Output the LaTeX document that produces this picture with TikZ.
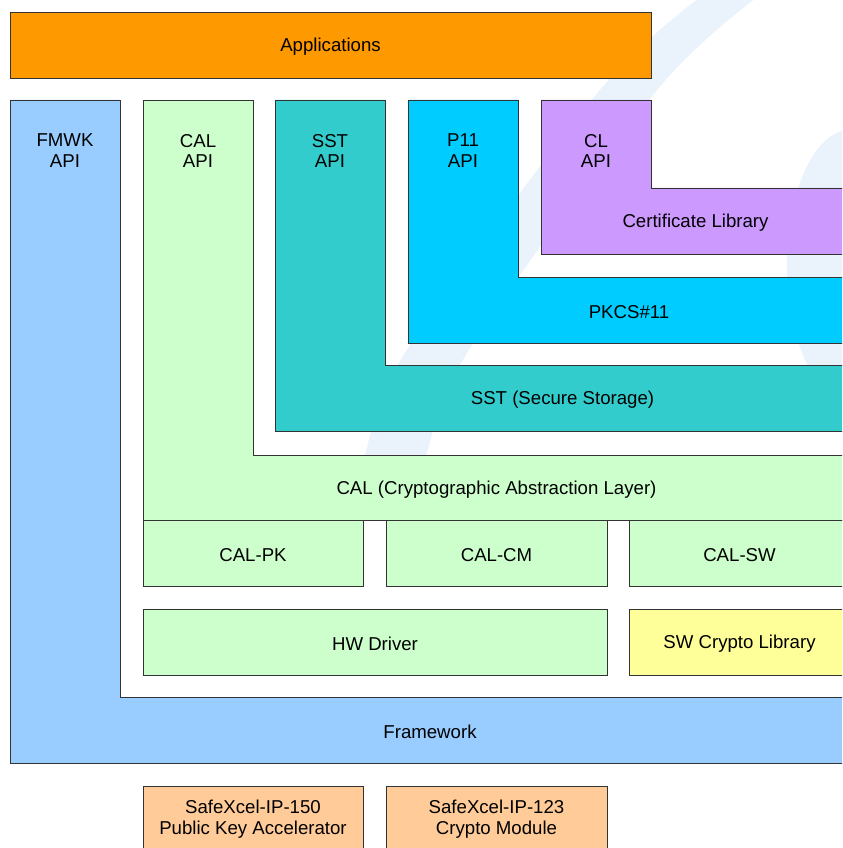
\documentclass[tikz,border=0pt]{standalone}
\usepackage{fontspec}
\setmainfont{Liberation Sans}
\definecolor{appsorange}{HTML}{FF9900}
\definecolor{fmwkblue}{HTML}{99CCFF}
\definecolor{calgreen}{HTML}{CCFFCC}
\definecolor{sstteal}{HTML}{33CCCC}
\definecolor{pkcscyan}{HTML}{00CCFF}
\definecolor{certviolet}{HTML}{CC99FF}
\definecolor{swyellow}{HTML}{FFFF99}
\definecolor{hwpeach}{HTML}{FFCC99}
\definecolor{markblue}{HTML}{EAF2FC}
\begin{document}
\begin{tikzpicture}[x=0.03cm,y=-0.03cm,
  layer/.style={draw=black!80,line width=0.7pt},
  lbl/.style={font=\fontsize{15.9}{17.9}\selectfont,align=center,inner sep=0pt}]
  \useasboundingbox (0,0) rectangle (842,848);
  \clip (0,0) rectangle (842,848);
  \fill[white] (0,0) rectangle (842,848);
  \fill[markblue] plot[smooth] coordinates {(703,-5) (600,90) (405,353) (361,470) (350,510)}
    -- plot[smooth] coordinates {(410,510) (422,470) (467,353) (657,90) (760,-5)} -- cycle;
  \fill[markblue] (850,265) ellipse [x radius=63,y radius=135];
  \draw[layer,fill=appsorange] (10,12) rectangle +(641,66);
  \node[lbl] (apps) at (330.5,47) {Applications};
  \draw[layer,fill=fmwkblue] (10,100) -- (120,100) -- (120,697) -- (850,697)
    -- (850,763) -- (10,763) -- cycle;
  \node[lbl] (fmwkapi) at (65,151) {FMWK\\API};
  \node[lbl] (fmwk) at (430,732) {Framework};
  \draw[layer,fill=calgreen] (143,100) -- (253,100) -- (253,455) -- (850,455)
    -- (850,520) -- (143,520) -- cycle;
  \node[lbl] (calapi) at (198,151) {CAL\\API};
  \node[lbl] (cal) at (496.5,490) {CAL (Cryptographic Abstraction Layer)};
  \draw[layer,fill=sstteal] (275,100) -- (385,100) -- (385,365) -- (850,365)
    -- (850,431) -- (275,431) -- cycle;
  \node[lbl] (sstapi) at (330,151) {SST\\API};
  \node[lbl] (sst) at (562.5,400) {SST (Secure Storage)};
  \draw[layer,fill=pkcscyan] (408,100) -- (518,100) -- (518,277) -- (850,277)
    -- (850,343) -- (408,343) -- cycle;
  \node[lbl] (p11api) at (463,151) {P11\\API};
  \node[lbl] (pkcs) at (629,312) {PKCS\#11};
  \draw[layer,fill=certviolet] (541,100) -- (651,100) -- (651,188) -- (850,188)
    -- (850,254) -- (541,254) -- cycle;
  \node[lbl] (clapi) at (596,151) {CL\\API};
  \node[lbl] (cl) at (695.5,223) {Certificate Library};
  \draw[layer,fill=calgreen] (143,520) rectangle +(220,66);
  \node[lbl] (calpk) at (253,555) {CAL-PK};
  \draw[layer,fill=calgreen] (386,520) rectangle +(221,66);
  \node[lbl] (calcm) at (496.5,555) {CAL-CM};
  \draw[layer,fill=calgreen] (629,520) rectangle +(221,66);
  \node[lbl] (calsw) at (739.5,555) {CAL-SW};
  \draw[layer,fill=calgreen] (143,609) rectangle +(464,66);
  \node[lbl] (hwdrv) at (375,644) {HW Driver};
  \draw[layer,fill=swyellow] (629,609) rectangle +(221,66);
  \node[lbl] (swlib) at (739.5,644) {SW Crypto Library};
  \draw[layer,fill=hwpeach] (143,786) rectangle +(220,66);
  \node[lbl] (pka) at (253,819) {SafeXcel-IP-150\\Public Key Accelerator};
  \draw[layer,fill=hwpeach] (386,786) rectangle +(221,66);
  \node[lbl] (cm) at (496.5,819) {SafeXcel-IP-123\\Crypto Module};
\end{tikzpicture}
\end{document}
